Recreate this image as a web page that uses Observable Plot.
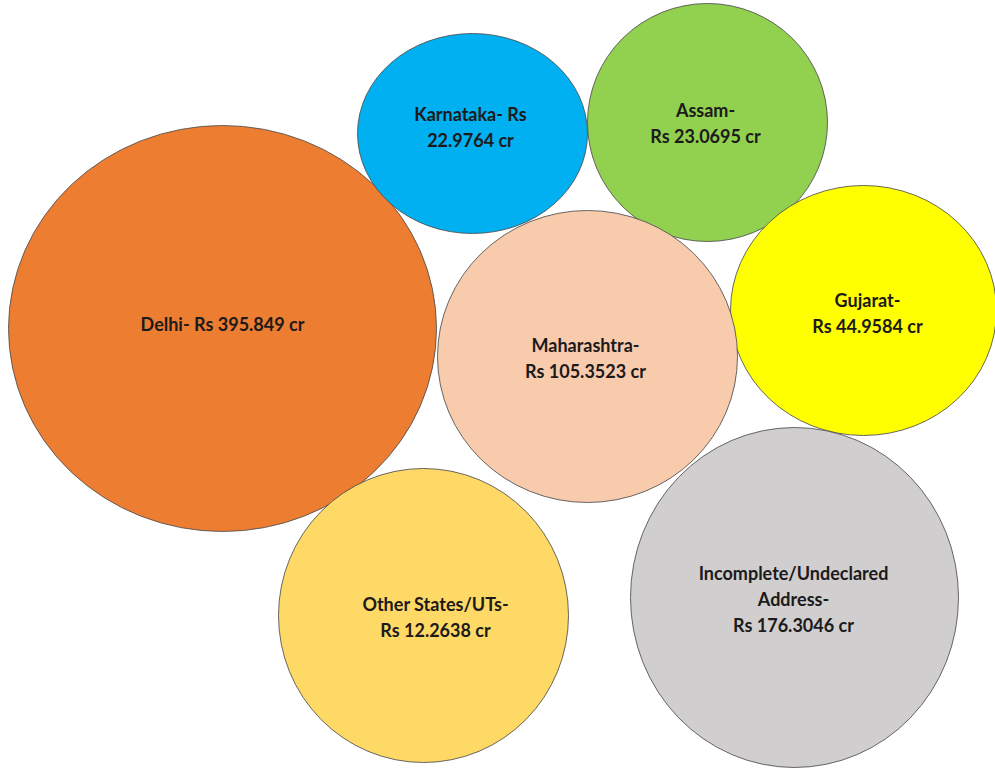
<!DOCTYPE html>
<html>
<head>
<meta charset="utf-8">
<script src="https://cdn.jsdelivr.net/npm/d3@7"></script>
<script src="https://cdn.jsdelivr.net/npm/@observablehq/plot@0.6"></script>
<style>
  html, body { margin: 0; padding: 0; background: #ffffff; }
  #chart { width: 995px; height: 768px; overflow: hidden; }
</style>
</head>
<body>
<div id="chart"></div>
<script>
// Categories and values (Rs crore)
const categories = ["Delhi", "Karnataka", "Assam", "Gujarat", "Maharashtra", "Incomplete/Undeclared Address", "Other States/UTs"];
const values = [395.849, 22.9764, 23.0695, 44.9584, 105.3523, 176.3046, 12.2638];
const labels = [
  "Delhi- Rs 395.849 cr",
  "Karnataka- Rs\n22.9764 cr",
  "Assam-\nRs 23.0695 cr",
  "Gujarat-\nRs 44.9584 cr",
  "Maharashtra-\nRs 105.3523 cr",
  "Incomplete/Undeclared\nAddress-\nRs 176.3046 cr",
  "Other States/UTs-\nRs 12.2638 cr"
];
const colors = ["#ED7D31", "#00B0F0", "#92D050", "#FFFF00", "#F8CBAD", "#D0CECE", "#FFD966"];

// Bubble layout (in the chart's own layout units)
const bubbleX = [222, 472, 707, 863, 587, 794, 423];
const bubbleY = [328, 133, 122, 310, 356, 597, 615];
const bubbleRX = [214, 115, 120, 133, 150, 164, 145];
const bubbleRY = [203, 100, 119, 125, 146, 170, 147];
const labelX = [222, 470, 705, 867, 585, 793, 435];
const labelY = [322, 125, 121, 311, 356, 597, 615];

const data = categories.map((c, i) => ({
  category: c, value: values[i], label: labels[i], color: colors[i],
  x: bubbleX[i], y: bubbleY[i], rx: bubbleRX[i], ry: bubbleRY[i],
  lx: labelX[i], ly: labelY[i]
}));

const W = 995, H = 768;
const plot = Plot.plot({
  width: W,
  height: H,
  margin: 0,
  style: { background: "#ffffff", overflow: "hidden" },
  x: { domain: [0, W], range: [0, W], axis: null },
  y: { domain: [0, H], range: [0, H], axis: null },
  r: { type: "linear", domain: [0, 300], range: [0, 300] },
  marks: [
    Plot.dot(data, {
      x: "x", y: "y", r: "rx",
      fill: "color", stroke: "#4d4d4d", strokeWidth: 1, strokeOpacity: 0.85,
      fillOpacity: 1, sort: null
    }),
    Plot.text(data, {
      x: "lx", y: "ly", text: "label",
      fontFamily: "Lato, 'Open Sans', sans-serif",
      fontWeight: "bold", fontSize: 18, lineHeight: 1.47,
      fill: "#1c1a1a", textAnchor: "middle"
    })
  ]
});

// Turn each circle into an ellipse with its own vertical radius
d3.select(plot).selectAll("circle").each(function(i) {
  const d = data[i];
  const el = d3.select(this);
  const cx = +el.attr("cx"), cy = +el.attr("cy"), r = +el.attr("r");
  if (!d || !r) return;
  const k = d.ry / d.rx;
  el.attr("transform", `translate(${cx},${cy}) scale(1,${k}) translate(${-cx},${-cy})`)
    .attr("vector-effect", "non-scaling-stroke");
});

document.getElementById("chart").appendChild(plot);
</script>
</body>
</html>
